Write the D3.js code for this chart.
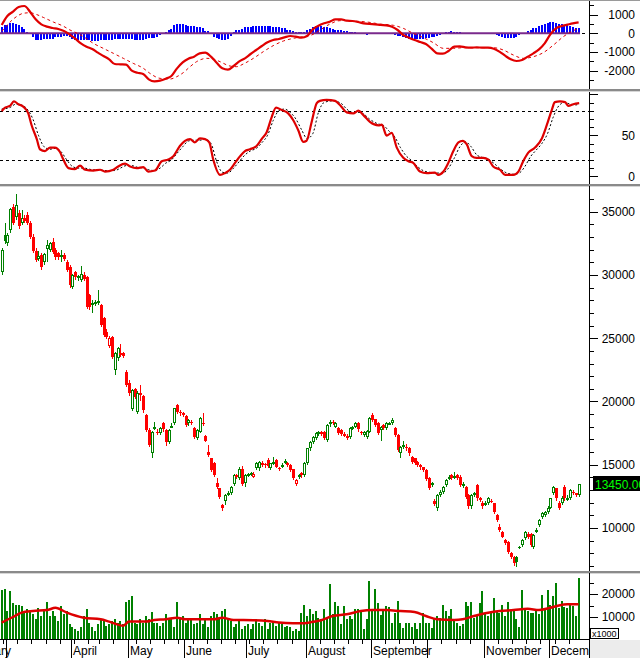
<!DOCTYPE html>
<html><head><meta charset="utf-8">
<script src="https://cdn.jsdelivr.net/npm/d3@7/dist/d3.min.js"></script>
<style>
body{margin:0;background:#fff;}
svg{display:block;font-family:"Liberation Sans",Arial,sans-serif;}
</style></head><body>
<svg id="c" width="640" height="658"></svg>
<script>
// ---------------- DATA ----------------
const open=[30200,33150,32500,33550,35400,34600,34900,34100,34500,34700,
34100,33000,31900,31300,31600,30990,32050,32000,32630,31970,
31700,31400,31550,31050,30650,29070,30200,29800,29600,30000,
29860,28400,27650,27750,27850,27620,26620,25520,24410,25120,
22490,23400,23800,23800,22360,21500,19380,20950,19200,20650,
20430,18900,17745,15900,17950,17610,17480,18270,17740,16820,
18050,18270,19720,19200,19060,18850,18270,18400,17880,17090,
17610,18270,17270,16030,15500,15110,13530,13130,11800,12160,
12700,12740,13480,14190,13950,14700,13530,14190,14250,14060,
14720,14720,15160,15050,15370,14720,15110,15370,14720,14900,
15170,15110,14980,14640,13480,14060,14320,14190,15110,16290,
16820,17090,17480,17610,17610,16960,18200,18400,18010,17870,
17740,17450,17300,17220,17870,18010,18330,17610,17350,17220,
17610,18930,18590,18270,17750,18140,17870,18270,18330,17870,
17350,15900,16430,16430,16300,15640,15500,15200,14980,14800,
14590,13930,13450,12160,11550,12600,12880,13400,13930,14190,
14000,14150,14060,13350,13270,12610,11700,12610,13400,12350,
12000,11850,11960,12160,11950,11030,10100,9700,9050,8920,
7990,7730,7730,8520,8650,9180,9530,9530,8520,9800,
10240,10900,11030,11290,11600,12740,13130,11950,11960,13270,
12300,12400,12880,12740,12580];
const high=[32100,34100,33300,35300,35600,36375,35100,35100,34700,35000,
34300,33200,32100,31900,31700,31700,32800,32600,32900,32100,
31800,32000,31700,31200,30800,30100,30300,30000,30700,30200,
29900,28500,28000,28000,28810,27700,26700,25700,25200,25200,
23900,24300,24510,23900,22500,21700,21000,21100,20800,21300,
20500,19000,17900,17700,18400,17800,18000,18400,17800,17800,
18300,19500,19800,19300,19150,18950,18600,18500,17950,17800,
18750,19060,17350,16560,15550,15200,13930,13200,11900,12700,
12900,13350,14250,14300,14800,14900,14250,14350,14400,14400,
15200,15300,15300,15150,15500,15150,15600,15450,14800,15100,
15450,15250,15050,14700,13850,14300,14450,15200,16350,16900,
17300,17550,17700,17700,17700,18200,18500,18500,18350,17950,
17800,17550,17400,17950,18100,18400,18400,17700,17700,17750,
18750,19050,18650,18350,18100,18250,18350,18400,18700,17950,
17450,16500,16900,16600,16400,15700,15550,15300,15050,14850,
14650,14000,13650,12300,12700,13000,13350,13900,14150,14250,
14400,14250,14150,13600,13350,12700,12700,12850,13500,12450,
12100,12100,12450,12300,12000,11100,10300,9800,9150,9000,
8100,7800,7800,8600,9150,9800,9700,9600,9500,10000,
10700,11250,11350,11700,12400,13350,13200,12100,12500,13400,
12600,13100,13000,12800,13500];
const low=[30050,32500,32400,33400,34000,34400,33700,34000,34200,34000,
32900,31800,31100,31200,30500,30900,31100,31900,31700,31300,
31300,31100,31200,30300,29020,29000,29700,29600,29500,29600,
27400,27300,27100,27600,27700,25950,25150,25000,24300,23450,
22140,23300,23600,23500,21200,20550,19300,20300,19100,20100,
19200,17650,16450,15640,17800,17400,17400,17700,16560,16700,
17950,18200,19100,18950,18850,18050,18150,18200,17150,17000,
17550,18150,16850,15700,14500,14100,13200,12350,11450,11900,
12600,12650,13400,13950,13850,13400,13320,14100,14150,14000,
14650,14600,14900,14850,14850,14650,15050,14800,14550,14800,
15100,14900,14500,13850,13380,13950,14050,14100,15050,16200,
16700,17000,17350,17350,17000,16850,18100,18200,17950,17400,
17350,17250,17000,17150,17800,17950,17700,17400,17300,17150,
17550,18450,18050,17400,16950,17800,17800,18200,18250,17250,
16100,15600,16350,16200,15800,15150,15050,14900,14700,14500,
13800,13050,13350,11850,11400,12500,12800,13350,13850,13850,
13950,13850,13350,13250,12400,11600,11600,12500,12250,12100,
11600,11800,11900,12050,11200,10550,9750,9250,8700,8050,
7650,7100,7000,8450,8600,9100,9200,8550,8450,9700,
10150,10800,10950,11200,11550,12650,12250,11500,11900,12250,
12200,12300,12650,12500,12500];
const close=[32000,32650,33150,35200,34100,35500,33850,34500,34300,34100,
33000,31900,31200,31500,30650,31630,32370,32500,31840,31440,
31400,31550,31300,30390,29200,29995,29800,29900,30050,29700,
27490,27450,27750,27880,27950,26040,25250,25120,25000,23540,
23800,24200,23670,23600,21300,20640,20900,20380,20700,20500,
19300,17750,16560,17600,18010,17480,17930,17800,16820,17740,
18100,19460,19200,19060,18930,18140,18530,18270,17220,17750,
18670,18230,16900,15770,14580,14190,13270,12420,11600,12610,
12740,13270,14190,14060,14700,13500,14190,14240,14320,14300,
15110,15240,14980,14960,14900,15110,15200,14850,14640,14980,
15300,14980,14580,13930,13800,14190,14150,15110,16290,16820,
17220,17480,17550,17450,17090,18140,18400,18270,18300,17480,
17450,17300,17090,17870,18010,18330,17800,17480,17610,17650,
18670,18550,18140,17480,18010,17900,18270,18330,18530,17350,
16170,16430,16560,16300,15900,15240,15110,14980,14800,14590,
13900,13130,13530,11900,12600,12880,13270,13800,14060,13930,
14100,13950,13400,13500,12480,11700,12610,12740,12350,12200,
11700,12000,12350,12100,11300,10630,9840,9310,8790,8130,
7730,7200,7300,8520,9050,9710,9300,8650,9440,9840,
10630,11160,11290,11600,12340,13270,12340,11600,12400,12340,
12400,13000,12740,12580,13450];
const volume=[21800,22100,12600,21500,16100,15400,15400,15000,11900,13600,
12600,11200,9000,14000,10400,12600,16600,10400,12600,10400,
8300,14700,11200,12600,6900,5500,4700,4000,5500,10400,
13300,7600,5500,4000,6900,9000,9000,6200,6900,8300,
9000,7600,8300,6900,16400,17300,19000,7600,6900,9000,
7600,10400,9000,12200,7600,7600,6200,7600,11200,9000,
9700,5500,16400,9000,10400,7600,9700,9000,6900,7600,
11200,6900,9000,5500,10400,12200,11200,9000,12600,13600,
9700,8300,5500,6900,9000,4700,6200,6900,4700,6900,
9000,7600,6200,9000,4700,7600,8300,6200,7600,6900,
5500,6200,5500,4000,4700,4000,11900,15400,10400,13300,
11200,12600,9700,9000,13300,10000,24400,11150,16430,14720,
6880,14720,9020,10440,9300,13580,13290,12580,4750,9020,
25830,12580,22100,16140,10730,12580,14720,14430,7600,11870,
16850,7600,5040,7600,7300,5460,7600,4750,7600,11870,
7600,7600,5040,9020,10440,9730,15430,12580,10440,13290,
9020,7600,6170,6880,16430,14720,16710,9730,10440,16140,
21120,11870,10440,11870,18270,12580,11870,15010,10440,16570,
12580,13290,9020,5460,21830,13290,12580,11870,11870,13580,
11150,19700,14000,21830,15430,19000,24700,14000,16850,14430,
14000,16140,14720,10440,26800];
// volume moving average, read at [bar, value]
const volMa=[[0,7600],[4,10000],[7,11900],[11,12600],[16,13000],[19,14000],[23,11900],[29,9700],[35,9000],[38,8000],[43,6200],[45,8000],[47,8000],[51,8000],[54,8700],[58,9000],[62,9700],[65,9000],[75,9000],[78,9700],[82,8700],[89,8600],[94,8300],[98,7600],[103,7300],[107,7300],[110,7900],[113,8600],[117,10400],[122,11150],[127,12580],[131,13000],[136,13000],[141,12580],[146,12150],[150,10440],[154,9020],[160,8700],[163,9020],[167,10440],[172,11870],[176,12580],[181,13000],[186,13580],[190,13000],[194,14000],[197,15000],[200,15500],[204,15500]];
// MACD line and signal, read at [bar, value]
const macdLine=[[0,444],[2,925],[4,1157],[6,1407],[8,1460],[10,1157],[12,747],[14,480],[16,355],[18,283],[20,230],[22,123],[24,-55],[26,-287],[28,-537],[30,-715],[32,-840],[34,-1036],[36,-1214],[38,-1393],[40,-1642],[42,-1660],[44,-1678],[46,-2000],[48,-2106],[50,-2177],[52,-2462],[54,-2570],[56,-2534],[58,-2427],[60,-2284],[62,-1874],[64,-1553],[66,-1357],[68,-1250],[70,-1072],[72,-1036],[74,-1250],[76,-1571],[78,-1874],[80,-1945],[82,-1749],[84,-1500],[86,-1339],[88,-1107],[90,-894],[92,-680],[94,-483],[96,-359],[98,-305],[100,-216],[102,-145],[104,-180],[106,-234],[108,-145],[110,212],[112,408],[114,533],[116,622],[118,747],[120,747],[122,676],[124,658],[126,604],[128,533],[130,497],[132,480],[134,444],[136,426],[138,355],[140,176],[142,-91],[144,-234],[146,-359],[148,-466],[150,-573],[152,-822],[154,-1072],[156,-1090],[158,-947],[160,-715],[162,-697],[164,-751],[166,-769],[168,-751],[170,-769],[172,-769],[174,-822],[176,-983],[178,-1197],[180,-1393],[182,-1482],[184,-1428],[186,-1250],[188,-1072],[190,-858],[192,-537],[194,-55],[196,265],[198,390],[200,462],[202,533],[204,586]];
const signalLine=[[0,100],[2.3,500],[5.3,900],[7.6,1068],[10,1100],[12.4,1000],[14.7,850],[18.3,600],[21.8,380],[24.1,180],[26.5,20],[28.9,-180],[32.4,-537],[35.9,-804],[39.5,-1072],[43,-1339],[46.5,-1607],[50.1,-1874],[52.4,-2142],[56,-2409],[59.5,-2445],[61.9,-2320],[64.2,-2106],[66.6,-1785],[68.9,-1518],[72.5,-1339],[74.8,-1375],[77.2,-1518],[80.7,-1749],[83.1,-1785],[85.4,-1642],[89,-1339],[92.5,-983],[96,-662],[99.6,-412],[103.1,-270],[106.6,-180],[109.6,-91],[112.5,170],[116.1,497],[119.6,676],[124.3,658],[129.1,604],[133.8,497],[138.5,426],[142,265],[145.5,0],[149.1,-234],[152.6,-501],[156.2,-804],[159.7,-804],[163.2,-769],[167.9,-769],[173.8,-769],[177.4,-894],[180.9,-1161],[184.4,-1339],[188,-1250],[191.5,-1036],[195.1,-626],[198.6,-180],[202.1,141],[204.2,265]];
const macdHist=[357,445,445,535,570,500,445,357,214,90,
0,-214,-357,-357,-357,-321,-321,-321,-300,-214,
-214,-200,-180,-180,-200,-300,-357,-357,-357,-380,
-357,-400,-446,-446,-446,-392,-392,-392,-392,-360,
-321,-321,-321,-300,-321,-321,-321,-357,-357,-357,
-357,-330,-267,-267,-267,-200,-89,-60,60,178,
250,420,500,500,480,450,392,392,392,350,
321,300,143,100,-50,-214,-250,-300,-357,-357,
-340,-150,50,178,200,250,321,321,350,370,
392,392,400,392,392,380,360,321,321,300,
260,178,150,120,89,89,70,89,150,250,
357,400,400,380,357,340,300,250,200,178,
160,140,100,80,71,60,40,0,-60,-89,
-70,-10,30,36,40,30,0,-30,-50,-90,
-150,-178,-220,-280,-321,-340,-330,-321,-321,-300,
-280,-250,-214,-214,-180,-100,-20,60,89,100,
89,60,50,40,20,0,-20,10,20,10,
-10,15,10,-20,-60,-89,-150,-200,-250,-267,
-280,-267,-200,-120,-60,20,120,200,267,300,
400,450,500,540,580,590,560,520,500,470,
430,390,350,300,270];
// Stochastic %K and %D, read at [bar, value]
const stochK=[[0,79.6],[1.2,83.8],[2.9,85.8],[4.3,91.3],[5.9,87.9],[7.6,85],[9.4,76.7],[10.6,62],[12.4,45.4],[13.5,33],[15.3,30.8],[17.1,35],[18.8,35],[20.6,29.6],[21.8,20.4],[23.6,10],[25.9,8.8],[27.7,13],[29.5,8],[32.4,7],[34.8,8],[36.5,5.8],[39.5,8],[41.2,12],[43.6,15.4],[45.4,12],[47.7,10],[50.1,11.3],[51.8,5.8],[54.2,7],[56.6,18.3],[58.9,20.4],[60.7,24.6],[63,37],[64.8,43.3],[66.6,45.4],[68.3,41.3],[70.1,46.3],[71.9,45.4],[73.4,41.3],[74.8,20.4],[77.2,1.7],[78.9,3.8],[80.7,8],[82.5,16.3],[84.3,24.6],[86,30.8],[87.8,33],[90.1,37],[91.9,45.4],[93.7,53.8],[95.5,72.5],[97,83.8],[99,80.8],[101.3,76.7],[103.1,68.3],[104.9,55.8],[106.6,42],[107.8,43.3],[109.6,66.3],[111.4,89.2],[112.5,92],[114.9,93.3],[117.9,92],[119.6,87],[122,78],[124.3,76.7],[126.1,80],[127.9,74.6],[130.2,66.3],[133.2,62],[134.4,62.9],[136.1,49.6],[137.9,53],[139.7,35],[142,22.5],[143.8,18.3],[145.5,16.3],[147.9,5.8],[150.3,3.8],[153.2,4.6],[154.4,1.7],[156.2,5.8],[157.9,16.3],[159.7,30.8],[161.5,41.3],[163,43.3],[164.4,39.2],[166.2,24.6],[167.9,22.5],[170.3,22.5],[172.1,20.4],[173.8,12],[176.2,8],[178,1.7],[180.9,1.7],[182.7,5.8],[184.4,18.3],[186.2,28.8],[188.6,35],[190.9,45.4],[192.7,62],[194.5,80.8],[195.6,90.4],[197.4,91.3],[199.2,90.4],[200.4,85.8],[202.1,87.9],[204.2,89.2]];
const stochD=[[0,82],[3,84],[5,88],[7,87],[9,82],[11,70],[13,50],[15,36],[17,33],[19,34],[21,30],[23,20],[25,12],[27,10],[29,10],[32,8],[35,7.5],[37,7],[40,7],[42,10],[44,13],[46,13],[48,11],[50,10],[52,8],[54,7],[56,10],[58,16],[60,20],[62,28],[64,36],[66,43],[68,44],[70,44],[72,45],[74,40],[76,18],[78,5],[80,4],[82,10],[84,18],[86,26],[88,31],[90,34],[92,41],[94,50],[96,68],[98,80],[100,82],[102,78],[104,70],[106,57],[108,46],[110,52],[112,78],[114,90],[117,92],[120,89],[122,82],[124,78],[126,78],[128,76],[130,70],[133,64],[135,62],[137,55],[139,48],[141,35],[143,25],[145,19],[147,12],[149,7],[152,4.5],[154,4],[156,4],[158,10],[160,22],[162,36],[164,42],[166,36],[168,26],[170,23],[172,21],[174,16],[176,10],[178,5],[181,2.5],[183,4],[185,12],[187,24],[189,32],[191,40],[193,52],[195,72],[197,86],[199,90],[201,88],[203,87],[204,88]];
// x axis categories
const monthNames=["February","March","April","May","June","July","August","September","October","November","December"];
const monthStart=[-14,2,25,45,65,87,108,131,151,171,194];
const weekStart=[1,6,11,16,21,26,31,35,40,45,48,53,58,63,68,73,78,83,88,93,98,103,108,113,118,123,128,131,136,141,146,151,156,161,166,171,176,181,186,191,196,201];
// y axis tick labels
const priceLabels=[10000,15000,20000,25000,30000,35000];
const macdLabels=[1000,0,-1000,-2000];
const stochLabels=[50,0];
const volLabels=[10000,20000];
const stochLevels=[80,20];

// ---------------- LAYOUT ----------------
const N=close.length;
const svg=d3.select('#c');
const AX=589.5;
const P={macd:[1,89],stoch:[92,183.5],price:[186,570.5],vol:[573,639.5]};
const x=d3.scaleLinear().domain([0,205]).range([0.3,0.3+205*2.828]);
const xc=i=>Math.round(x(i+0.5));
const yMacd=d3.scaleLinear().domain([-2000,1000]).range([70.7,14.6]);
const yStoch=d3.scaleLinear().domain([0,100]).range([176.3,94.3]);
const yPrice=d3.scaleLinear().domain([10000,35000]).range([528,211.7]);
const yVol=d3.scaleLinear().domain([0,20000]).range([640,594]);

const defs=svg.append('defs');
Object.entries(P).forEach(([k,[t,b]])=>{
  defs.append('clipPath').attr('id','clip-'+k).append('rect').attr('x',0).attr('y',t).attr('width',AX-0.5).attr('height',b-t);
});
svg.append('rect').attr('width',640).attr('height',658).attr('fill','#fff');

// ---------- MACD panel ----------
const gM=svg.append('g').attr('clip-path','url(#clip-macd)');
gM.selectAll('rect.h').data(d3.range(N)).join('rect').attr('class','h')
  .attr('x',i=>xc(i)-1).attr('width',2)
  .attr('y',i=>Math.round(Math.min(yMacd(macdHist[i]),yMacd(0))))
  .attr('height',i=>Math.max(1,Math.round(Math.abs(yMacd(macdHist[i])-yMacd(0)))))
  .attr('fill','#0000ff').attr('shape-rendering','crispEdges');
gM.append('line').attr('x1',0).attr('x2',x(N)).attr('y1',yMacd(0)).attr('y2',yMacd(0))
  .attr('stroke','#7a2a8c').attr('stroke-width',2);
const lineM=d3.line().x(d=>x(d[0]+0.5)).y(d=>yMacd(d[1])).curve(d3.curveMonotoneX);
gM.append('path').attr('d',lineM(signalLine)).attr('fill','none').attr('stroke','#e00000').attr('stroke-width',1).attr('stroke-dasharray','3,3');
gM.append('path').attr('d',lineM(macdLine)).attr('fill','none').attr('stroke','#e00000').attr('stroke-width',2.2);

// ---------- Stochastic panel ----------
const gS=svg.append('g').attr('clip-path','url(#clip-stoch)');
gS.selectAll('line.lv').data(stochLevels).join('line').attr('class','lv')
  .attr('x1',0).attr('x2',AX).attr('y1',d=>Math.round(yStoch(d))+0.5).attr('y2',d=>Math.round(yStoch(d))+0.5)
  .attr('stroke','#000').attr('stroke-dasharray','3,3');
const lineS=d3.line().x(d=>x(d[0]+0.5)).y(d=>yStoch(d[1])).curve(d3.curveMonotoneX);
gS.append('path').attr('d',lineS(stochD)).attr('fill','none').attr('stroke','#000').attr('stroke-width',1).attr('stroke-dasharray','2,2');
gS.append('path').attr('d',lineS(stochK)).attr('fill','none').attr('stroke','#dd0000').attr('stroke-width',2.2);

// ---------- Price panel ----------
const gP=svg.append('g').attr('clip-path','url(#clip-price)').attr('shape-rendering','crispEdges');
const col=i=>(i===0?close[i]>=open[i]:close[i]>=close[i-1])?'#008000':'#ff0000';
gP.selectAll('line.w').data(d3.range(N)).join('line').attr('class','w')
  .attr('x1',i=>xc(i)+0.5).attr('x2',i=>xc(i)+0.5)
  .attr('y1',i=>Math.round(yPrice(high[i]))).attr('y2',i=>Math.round(yPrice(low[i]))+1)
  .attr('stroke',col);
gP.selectAll('rect.b').data(d3.range(N)).join('rect').attr('class','b')
  .each(function(i){
    const yt=Math.round(yPrice(Math.max(open[i],close[i])));
    const yb=Math.round(yPrice(Math.min(open[i],close[i])));
    const s=d3.select(this);
    if(close[i]>open[i]){
      s.attr('x',xc(i)-0.5).attr('y',yt+0.5).attr('width',2).attr('height',Math.max(yb-yt-1,1))
       .attr('fill','#fff').attr('stroke',col(i));
    } else {
      s.attr('x',xc(i)-1).attr('y',yt).attr('width',3).attr('height',Math.max(yb-yt,1))
       .attr('fill',col(i));
    }
  });

// ---------- Volume panel ----------
const gV=svg.append('g').attr('clip-path','url(#clip-vol)');
gV.selectAll('rect.v').data(d3.range(N)).join('rect').attr('class','v')
  .attr('x',i=>xc(i)-1).attr('width',2)
  .attr('y',i=>Math.round(yVol(volume[i]))).attr('height',i=>640-Math.round(yVol(volume[i])))
  .attr('fill','#008000').attr('shape-rendering','crispEdges');
const lineV=d3.line().x(d=>x(d[0]+0.5)).y(d=>yVol(d[1])).curve(d3.curveMonotoneX);
gV.append('path').attr('d',lineV(volMa)).attr('fill','none').attr('stroke','#dd0000').attr('stroke-width',2.5);

// ---------- separators ----------
const sep=svg.append('g').attr('shape-rendering','crispEdges');
sep.append('rect').attr('x',0).attr('y',0).attr('width',640).attr('height',1).attr('fill','#9a9a9a');
[89,183.5,570.5].forEach(y=>{
  sep.append('rect').attr('x',0).attr('y',Math.round(y)).attr('width',640).attr('height',2).attr('fill','#8a8a8a');
  sep.append('rect').attr('x',0).attr('y',Math.round(y)+2).attr('width',640).attr('height',1).attr('fill','#d6d6d6');
});

// ---------- right axes ----------
const ax=svg.append('g').attr('shape-rendering','crispEdges');
function rightAxis(scale,range,minorStep,majorStep,labels){
  const [t,b]=range;
  ax.append('line').attr('x1',AX).attr('x2',AX).attr('y1',t).attr('y2',b).attr('stroke','#000');
  const d=scale.domain(), lo=Math.min(...scale.invert ? [scale.invert(b),scale.invert(t)] : d), hi=Math.max(scale.invert(b),scale.invert(t));
  for(let v=Math.ceil(lo/minorStep)*minorStep; v<=hi; v+=minorStep){
    const y=Math.round(scale(v))+0.5;
    if(y<t+1||y>b-1) continue;
    const major=Math.abs(v/majorStep-Math.round(v/majorStep))<1e-9;
    ax.append('line').attr('x1',AX).attr('x2',AX+(major?8:4)).attr('y1',y).attr('y2',y).attr('stroke','#000');
  }
  labels.forEach(v=>{
    ax.append('text').attr('x',635).attr('y',scale(v)).attr('dy','0.36em').attr('text-anchor','end')
      .attr('font-size',12).attr('fill','#000').text(v);
  });
}
rightAxis(yMacd,P.macd,500,1000,macdLabels);
rightAxis(yStoch,P.stoch,10,50,stochLabels);
rightAxis(yPrice,P.price,1000,5000,priceLabels);
rightAxis(yVol,P.vol,5000,10000,volLabels);
// zero marker of MACD
ax.append('line').attr('x1',582).attr('x2',585).attr('y1',Math.round(yMacd(0))+0.5).attr('y2',Math.round(yMacd(0))+0.5).attr('stroke','#000');

// ---------- bottom axis ----------
const bx=svg.append('g');
bx.append('line').attr('x1',0).attr('x2',AX).attr('y1',639.5).attr('y2',639.5).attr('stroke','#000').attr('shape-rendering','crispEdges');
weekStart.forEach(i=>{
  const tx=Math.round(x(i))+0.5;
  bx.append('line').attr('x1',tx).attr('x2',tx).attr('y1',640).attr('y2',644).attr('stroke','#000').attr('shape-rendering','crispEdges');
});
let lastEnd=-1e9;
monthNames.forEach((m,k)=>{
  const tx=Math.round(x(monthStart[k]))+0.5;
  bx.append('line').attr('x1',tx).attr('x2',tx).attr('y1',640).attr('y2',658).attr('stroke','#000').attr('shape-rendering','crispEdges');
  const t=bx.append('text').attr('x',tx+1.5).attr('y',655).attr('font-size',12).attr('fill','#000').text(m);
  const w=t.node().getComputedTextLength();
  if(tx+1.5<lastEnd+2) t.remove(); else lastEnd=tx+1.5+w;
});
// bottom-right grey corner
svg.append('rect').attr('x',590).attr('y',640).attr('width',50).attr('height',18).attr('fill','#ececec');
svg.append('line').attr('x1',AX).attr('x2',AX).attr('y1',639.5).attr('y2',658).attr('stroke','#000').attr('shape-rendering','crispEdges');
// x1000 box
svg.append('rect').attr('x',590.5).attr('y',628.5).attr('width',28).attr('height',10).attr('fill','#fff').attr('stroke','#000').attr('shape-rendering','crispEdges');
svg.append('text').attr('x',592).attr('y',637).attr('font-size',9).attr('fill','#000').text('x1000');

// last price label
const lp=close[N-1], ly=yPrice(lp);
svg.append('rect').attr('x',593).attr('y',Math.round(ly-8)).attr('width',47).attr('height',15).attr('fill','#000');
svg.append('text').attr('x',595).attr('y',ly).attr('dy','0.36em').attr('font-size',12).attr('fill','#00ff00').text(lp.toFixed(2));
</script>
</body></html>
